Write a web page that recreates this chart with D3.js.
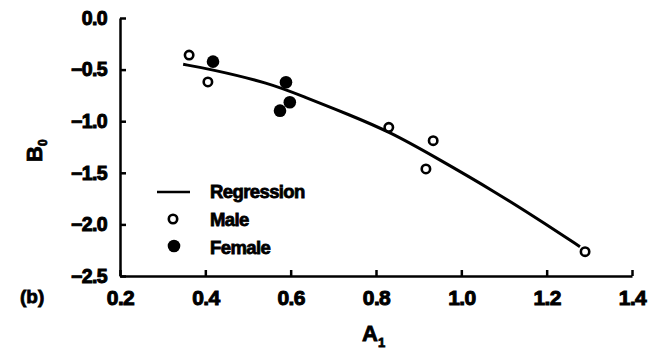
<!DOCTYPE html>
<html>
<head>
<meta charset="utf-8">
<script src="https://cdn.jsdelivr.net/npm/d3@7"></script>
<style>
    body { margin: 0; background: #fff; }
    text { font-family: "Liberation Sans", Arial, sans-serif; font-weight: bold; fill: #000; stroke: #000; stroke-width: 0.8px; }
</style>
</head>
<body>
<div id="chart"></div>
<script>
// values
let maleA1 = [0.362, 0.406, 0.830, 0.934, 0.917, 1.290]
let maleB0 = [-0.359, -0.620, -1.059, -1.189, -1.463, -2.264]

let femaleA1 = [0.418, 0.589, 0.598, 0.575]
let femaleB0 = [-0.423, -0.623, -0.817, -0.898]

let regA1 = [0.348, 0.411, 0.552, 0.629, 0.739, 0.833, 0.934, 1.084, 1.201, 1.278]
let regB0 = [-0.449, -0.494, -0.633, -0.760, -0.940, -1.105, -1.337, -1.696, -2.006, -2.216]

let xTicks = [0.2, 0.4, 0.6, 0.8, 1.0, 1.2, 1.4]
let yTicks = [0.0, -0.5, -1.0, -1.5, -2.0, -2.5]

let legendLabels = ['Regression', 'Male', 'Female']

let width = 662, height = 349
let margin = {top: 18, right: 30, bottom: 73, left: 120}

let svg = d3.select('#chart').append('svg')
    .attr('width', width)
    .attr('height', height)

let xScale = d3.scaleLinear()
    .domain([0.2, 1.4])
    .range([margin.left, width - margin.right])

let yScale = d3.scaleLinear()
    .domain([0.0, -2.5])
    .range([margin.top, height - margin.bottom])

/* axes: ticks point inward, thick lines */
let xAxis = svg.append('g')
    .attr('transform', 'translate(0,' + (height - margin.bottom) + ')')
    .call(d3.axisBottom(xScale).tickValues(xTicks).tickSizeInner(-6).tickSizeOuter(0).tickPadding(10)
        .tickFormat(d3.format('.1f')))
xAxis.selectAll('text')
    .style('font-size', '21px')
    .attr('dy', '0.71em').attr('y', 14)

let yAxis = svg.append('g')
    .attr('transform', 'translate(' + margin.left + ',0)')
    .call(d3.axisLeft(yScale).tickValues(yTicks).tickSizeInner(-6).tickSizeOuter(0).tickPadding(13)
        .tickFormat(d => d3.format('.1f')(d).replace('-', '\u2212')))
yAxis.selectAll('text')
    .style('font-size', '19.5px')

svg.selectAll('.tick text')
    .style('fill', '#000')
    .style('stroke', '#000')
    .style('stroke-width', '1px')
    .style('letter-spacing', '-0.6px')

svg.selectAll('.domain, .tick line')
    .attr('stroke', '#000')
    .attr('stroke-width', 2.5)

// axis titles
let xlab = svg.append('text')
    .attr('x', xScale(0.8) - 14)
    .attr('y', 341)
    .style('font-size', '22px')
xlab.append('tspan').text('A')
xlab.append('tspan').text('1').style('font-size', '13px').attr('dy', 6)

let ylab = svg.append('text')
    .attr('transform', 'translate(42,' + 162 + ') rotate(-90)')
    .style('font-size', '22px')
ylab.append('tspan').text('B')
ylab.append('tspan').text('0').style('font-size', '12px').attr('dy', 5)

svg.append('text').text('(b)')
    .attr('x', 20)
    .attr('y', 303)
    .style('font-size', '19px')

// regression curve
let regData = regA1.map((a, i) => ({a: a, b: regB0[i]}))
let line = d3.line()
    .x(d => xScale(d.a))
    .y(d => yScale(d.b))
    .curve(d3.curveBasis)
svg.append('path')
    .datum(regData)
    .attr('d', line)
    .attr('fill', 'none')
    .attr('stroke', '#000')
    .attr('stroke-width', 3)

// points
let maleData = maleA1.map((a, i) => ({a: a, b: maleB0[i]}))
let femaleData = femaleA1.map((a, i) => ({a: a, b: femaleB0[i]}))

svg.append('g').selectAll('circle').data(maleData).enter().append('circle')
    .attr('cx', d => xScale(d.a))
    .attr('cy', d => yScale(d.b))
    .attr('r', 4.2)
    .attr('fill', '#fff')
    .attr('stroke', '#000')
    .attr('stroke-width', 2.6)

svg.append('g').selectAll('circle').data(femaleData).enter().append('circle')
    .attr('cx', d => xScale(d.a))
    .attr('cy', d => yScale(d.b))
    .attr('r', 6.3)
    .attr('fill', '#000')

// legend
let legend = svg.append('g').attr('id', 'legend')
legend.append('line')
    .attr('x1', 157).attr('x2', 190)
    .attr('y1', 192).attr('y2', 192)
    .attr('stroke', '#000')
    .attr('stroke-width', 2.5)
legend.append('circle')
    .attr('cx', 173).attr('cy', 219)
    .attr('r', 4.2)
    .attr('fill', '#fff')
    .attr('stroke', '#000')
    .attr('stroke-width', 2.6)
legend.append('circle')
    .attr('cx', 174).attr('cy', 246)
    .attr('r', 6.3)
    .attr('fill', '#000')
legend.selectAll('text.lab').data(legendLabels).enter().append('text')
    .attr('class', 'lab')
    .attr('x', 210)
    .attr('y', (d, i) => 198 + i * 28)
    .style('font-size', '18.5px')
    .style('letter-spacing', '-0.6px')
    .text(d => d)
</script>
</body>
</html>
